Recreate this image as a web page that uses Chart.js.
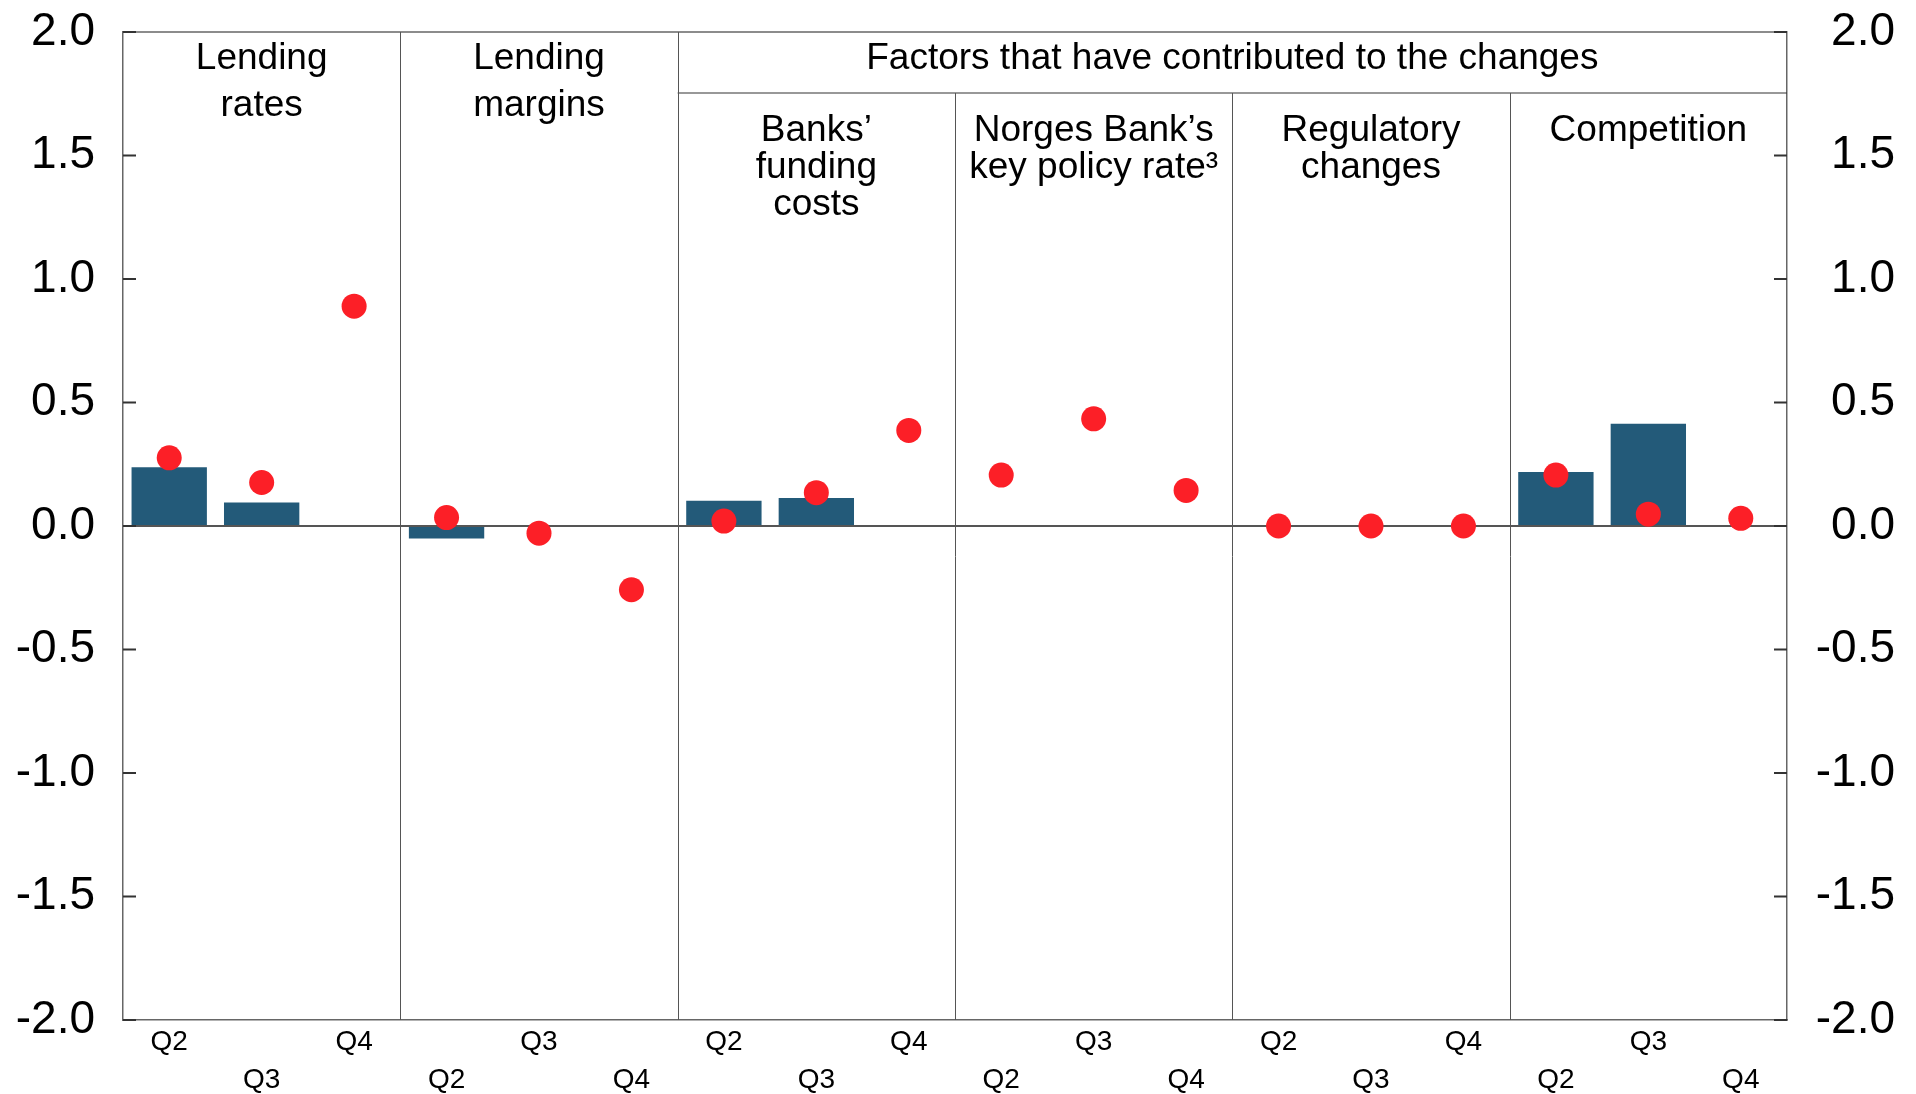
<!DOCTYPE html>
<html>
<head>
<meta charset="utf-8">
<script src="https://cdn.jsdelivr.net/npm/chart.js@4.4.1/dist/chart.umd.min.js"></script>
<style>
  html, body { margin: 0; padding: 0; background: #fff; }
  #wrap { width: 1916px; height: 1094px; position: relative; }
</style>
</head>
<body>
<div id="wrap"><canvas id="chart"></canvas></div>
<script>
// quarter labels, 3 per group
const quarters = ['Q2', 'Q3', 'Q4', 'Q2', 'Q3', 'Q4', 'Q2', 'Q3', 'Q4',
                  'Q2', 'Q3', 'Q4', 'Q2', 'Q3', 'Q4', 'Q2', 'Q3', 'Q4'];
// bars (dark blue)
const barValues = [0.238, 0.095, null, -0.051, null, null, 0.102, 0.113, null,
                   null, null, null, null, null, null, 0.219, 0.414, null];
// dots (red)
const dotValues = [0.276, 0.176, 0.89, 0.034, -0.029, -0.258, 0.02, 0.135, 0.387,
                   0.206, 0.434, 0.144, 0, 0, 0, 0.206, 0.048, 0.031];
// panel headings
const groupTitles = [['Lending', 'rates'], ['Lending', 'margins'], ['Banks’', 'funding', 'costs'],
                     ['Norges Bank’s', 'key policy rate³'], ['Regulatory', 'changes'], ['Competition']];
const factorsTitle = 'Factors that have contributed to the changes';
const yMin = -2, yMax = 2, yStep = 0.5;

const FONT = "'Liberation Sans', Arial, sans-serif";
const LINE = '#666';

// separators, frame, inward ticks and headings
const panelPlugin = {
    id: 'panels',
    beforeDatasetsDraw(chart) {
        const {ctx, chartArea: a, scales: {x, y}} = chart;
        const headerY = 93;
        ctx.save();
        // top frame line
        ctx.strokeStyle = LINE;
        ctx.lineWidth = 1.5;
        ctx.beginPath();
        ctx.moveTo(a.left, a.top);
        ctx.lineTo(a.right, a.top);
        ctx.stroke();
        // header line under "Factors..."
        const fx = (x.getPixelForValue(5) + x.getPixelForValue(6)) / 2;
        ctx.strokeStyle = '#333';
        ctx.lineWidth = 1.2;
        ctx.beginPath();
        ctx.moveTo(fx, headerY);
        ctx.lineTo(a.right, headerY);
        ctx.stroke();
        // group separators
        ctx.strokeStyle = '#555';
        ctx.lineWidth = 1;
        for (let g = 1; g < groupTitles.length; g++) {
            const px = Math.round((x.getPixelForValue(3 * g - 1) + x.getPixelForValue(3 * g)) / 2) + 0.5;
            ctx.beginPath();
            ctx.moveTo(px, g <= 2 ? a.top : headerY);
            ctx.lineTo(px, a.bottom);
            ctx.stroke();
        }
        // inward tick marks on both axes
        ctx.strokeStyle = '#333';
        ctx.lineWidth = 2;
        y.ticks.forEach(t => {
            const py = y.getPixelForValue(t.value);
            ctx.beginPath();
            ctx.moveTo(a.left, py);
            ctx.lineTo(a.left + 13, py);
            ctx.moveTo(a.right - 13, py);
            ctx.lineTo(a.right, py);
            ctx.stroke();
        });
        // headings
        ctx.fillStyle = '#000';
        ctx.font = '37px ' + FONT;
        ctx.textAlign = 'center';
        ctx.textBaseline = 'alphabetic';
        groupTitles.forEach((lines, g) => {
            const cx = x.getPixelForValue(3 * g + 1);
            lines.forEach((txt, i) => {
                const by = g < 2 ? 69 + i * 47 : 140.5 + i * 37;
                ctx.fillText(txt, cx, by);
            });
        });
        ctx.fillText(factorsTitle, (fx + a.right) / 2, 69);
        ctx.restore();
    }
};

function noPad(s) {
    s.paddingTop = 0;
    s.paddingBottom = 0;
    s.paddingLeft = 0;
    s.paddingRight = 0;
}

const ctx = document.getElementById('chart').getContext('2d');
const chart = new Chart(ctx, {
    type: 'bar',
    data: {
        labels: quarters,
        datasets: [
            {
                type: 'line',
                data: dotValues,
                showLine: false,
                pointRadius: 12.5,
                pointHoverRadius: 12.5,
                pointBackgroundColor: '#fc1f27',
                pointBorderWidth: 0,
                yAxisID: 'y',
                order: 0
            },
            {
                type: 'bar',
                data: barValues,
                backgroundColor: '#235a79',
                barPercentage: 0.815,
                categoryPercentage: 1,
                yAxisID: 'y',
                order: 1
            }
        ]
    },
    options: {
        responsive: true,
        maintainAspectRatio: false,
        animation: false,
        layout: { padding: { top: 32, right: 21, left: 0, bottom: 0 } },
        plugins: { legend: { display: false }, tooltip: { enabled: false } },
        scales: {
            x: {
                grid: { display: false, drawTicks: false },
                border: { display: true, color: LINE, width: 1.5 },
                ticks: {
                    autoSkip: false,
                    maxRotation: 0,
                    padding: 3,
                    color: '#000',
                    font: { family: FONT, size: 28, lineHeight: 1.37 },
                    callback: (v, i) => i % 2 === 0 ? [quarters[i], ''] : ['', quarters[i]]
                },
                afterFit: s => { noPad(s); s.height = 74; }
            },
            y: {
                position: 'left',
                min: yMin, max: yMax,
                grid: {
                    drawTicks: false,
                    color: c => c.tick && c.tick.value === 0 ? '#555' : 'rgba(0,0,0,0)',
                    lineWidth: 2
                },
                border: { display: true, color: LINE, width: 1.5 },
                ticks: {
                    stepSize: yStep,
                    padding: 28,
                    color: '#000',
                    font: { family: FONT, size: 46 },
                    callback: v => v.toFixed(1)
                },
                afterFit: s => { noPad(s); s.width = 123; }
            },
            y2: {
                position: 'right',
                min: yMin, max: yMax,
                grid: { drawOnChartArea: false, drawTicks: false },
                border: { display: true, color: LINE, width: 1.5 },
                ticks: {
                    stepSize: yStep,
                    padding: 28,
                    crossAlign: 'far',
                    color: '#000',
                    font: { family: FONT, size: 46 },
                    callback: v => v.toFixed(1)
                },
                afterFit: s => { noPad(s); s.width = 108; }
            }
        }
    },
    plugins: [panelPlugin]
});
</script>
</body>
</html>
